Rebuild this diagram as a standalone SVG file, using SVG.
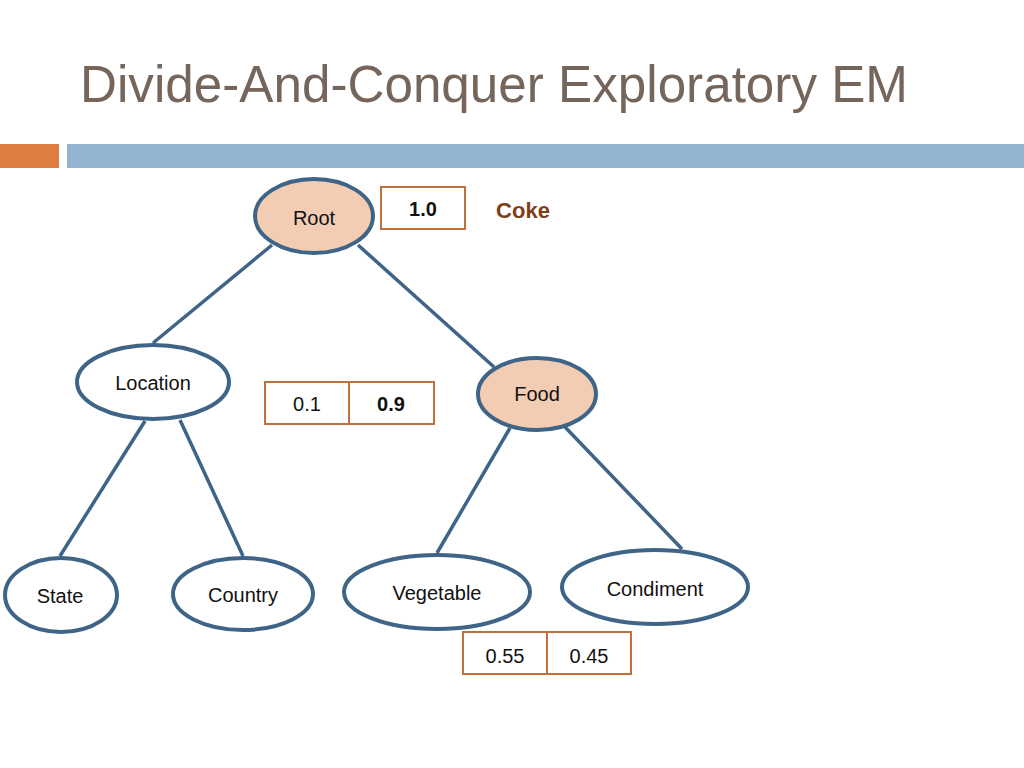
<svg xmlns="http://www.w3.org/2000/svg" width="1024" height="768" viewBox="0 0 1024 768">
<style>
.node{stroke:#3E6487;stroke-width:4}
.plain{fill:#fff}
.hl{fill:#F2CDB3}
.lbl{font-family:"Liberation Sans",Arial,sans-serif;font-size:20px;fill:#111;text-anchor:middle}
.box{fill:#fff;stroke:#C0703A;stroke-width:2}
.edge{stroke:#3E6487;stroke-width:3.5;fill:none}
</style>
<rect width="1024" height="768" fill="#fff"/>
<text x="80" y="102" font-family="'Liberation Sans',Arial,sans-serif" font-size="52" fill="#75655B" textLength="828" lengthAdjust="spacingAndGlyphs">Divide-And-Conquer Exploratory EM</text>
<rect x="0" y="144" width="59" height="24" fill="#E07E42"/>
<rect x="67" y="144" width="957" height="24" fill="#93B4D1"/>
<g id="connectors">
<line class="edge" x1="272" y1="245" x2="153" y2="343"/>
<line class="edge" x1="358" y1="245" x2="494" y2="367"/>
<line class="edge" x1="145" y1="421" x2="60" y2="556"/>
<line class="edge" x1="180" y1="420" x2="243" y2="556"/>
<line class="edge" x1="510" y1="428" x2="437" y2="553"/>
<line class="edge" x1="565" y1="427" x2="682" y2="549"/>
</g>
<g id="root"><ellipse class="node hl" cx="314" cy="216" rx="59" ry="37"/><text class="lbl" x="314" y="225">Root</text></g>
<g id="location"><ellipse class="node plain" cx="153" cy="382" rx="76" ry="37"/><text class="lbl" x="153" y="390">Location</text></g>
<g id="food"><ellipse class="node hl" cx="537" cy="394" rx="59" ry="36"/><text class="lbl" x="537" y="401">Food</text></g>
<g id="state"><ellipse class="node plain" cx="61" cy="595" rx="56" ry="37"/><text class="lbl" x="60" y="603">State</text></g>
<g id="country"><ellipse class="node plain" cx="243" cy="594" rx="70" ry="36"/><text class="lbl" x="243" y="602">Country</text></g>
<g id="vegetable"><ellipse class="node plain" cx="437" cy="592" rx="93" ry="37"/><text class="lbl" x="437" y="600">Vegetable</text></g>
<g id="condiment"><ellipse class="node plain" cx="655" cy="587" rx="93" ry="37"/><text class="lbl" x="655" y="596">Condiment</text></g>
<g id="p-root"><rect class="box" x="381" y="187" width="84" height="42"/><text class="lbl" x="423" y="216" font-weight="bold">1.0</text></g>
<text x="523" y="218" font-family="'Liberation Sans',Arial,sans-serif" font-size="22" font-weight="bold" fill="#7E3F17" text-anchor="middle">Coke</text>
<g id="p-mid"><rect class="box" x="265" y="382" width="84" height="42"/><rect class="box" x="349" y="382" width="85" height="42"/><text class="lbl" x="307" y="411">0.1</text><text class="lbl" x="391" y="411" font-weight="bold">0.9</text></g>
<g id="p-low"><rect class="box" x="463" y="632" width="84" height="42"/><rect class="box" x="547" y="632" width="84" height="42"/><text class="lbl" x="505" y="663">0.55</text><text class="lbl" x="589" y="663">0.45</text></g>
</svg>
